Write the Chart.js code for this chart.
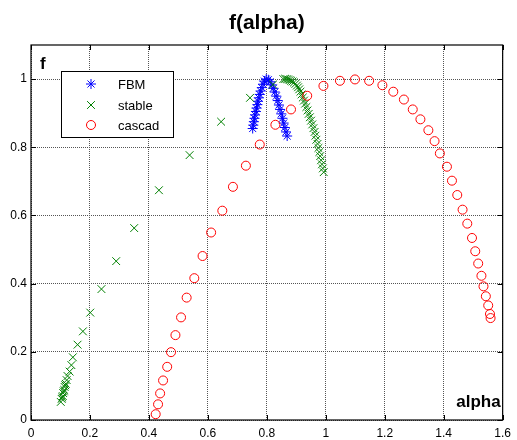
<!DOCTYPE html>
<html>
<head>
<meta charset="utf-8">
<script src="https://cdn.jsdelivr.net/npm/chart.js@4/dist/chart.umd.min.js"></script>
<style>
  body { margin: 0; background: #fff; }
  #wrap { width: 517px; height: 440px; }
</style>
</head>
<body>
<div id="wrap"><canvas id="falphaChart" width="517" height="440"></canvas></div>
<script>
// series values
const fbmAlpha = [0.752, 0.754, 0.756, 0.758, 0.760, 0.763, 0.765, 0.768, 0.770, 0.773, 0.776, 0.779, 0.783, 0.787, 0.792, 0.798,
  0.805, 0.811, 0.817, 0.822, 0.827, 0.832, 0.837, 0.841, 0.845, 0.849, 0.853, 0.857, 0.861, 0.865, 0.869];
const fbmF = [0.855, 0.865, 0.875, 0.885, 0.895, 0.905, 0.915, 0.925, 0.935, 0.945, 0.955, 0.965, 0.975, 0.985, 0.994, 1.000,
  0.998, 0.992, 0.983, 0.973, 0.962, 0.950, 0.937, 0.924, 0.911, 0.898, 0.885, 0.871, 0.858, 0.845, 0.833];

const stableAlpha = [0.101, 0.104, 0.106, 0.108, 0.109, 0.111, 0.113, 0.114, 0.116, 0.118, 0.121, 0.124, 0.131, 0.137, 0.142, 0.158,
  0.176, 0.201, 0.239, 0.289, 0.350, 0.434, 0.538, 0.645, 0.743, 0.821,
  0.856, 0.862, 0.867, 0.872, 0.877, 0.882, 0.887, 0.892, 0.897, 0.902, 0.906, 0.910, 0.914, 0.918, 0.922, 0.926, 0.930,
  0.934, 0.938, 0.942, 0.946, 0.950, 0.954, 0.958, 0.962, 0.965, 0.968, 0.972, 0.975, 0.978, 0.981, 0.984, 0.987, 0.990, 0.993];
const stableF = [0.053, 0.062, 0.066, 0.070, 0.079, 0.084, 0.088, 0.097, 0.102, 0.106, 0.117, 0.129, 0.142, 0.161, 0.184, 0.221,
  0.260, 0.315, 0.384, 0.466, 0.563, 0.674, 0.777, 0.875, 0.945, 0.984,
  1.000, 1.001, 1.000, 0.999, 0.997, 0.995, 0.993, 0.990, 0.986, 0.981, 0.976, 0.970, 0.963, 0.955, 0.946, 0.937, 0.928,
  0.918, 0.908, 0.898, 0.888, 0.878, 0.867, 0.856, 0.845, 0.834, 0.822, 0.810, 0.798, 0.786, 0.774, 0.762, 0.750, 0.738, 0.727];

const cascadAlpha = [0.423, 0.431, 0.438, 0.448, 0.462, 0.475, 0.490, 0.509, 0.528, 0.554, 0.582, 0.611, 0.649, 0.685, 0.729,
  0.776, 0.829, 0.882, 0.937, 0.992, 1.048, 1.099, 1.147, 1.192, 1.229, 1.265, 1.295, 1.321, 1.348, 1.369, 1.387, 1.411,
  1.428, 1.446, 1.464, 1.480, 1.496, 1.507, 1.517, 1.528, 1.535, 1.543, 1.551, 1.557, 1.559];
const cascadF = [0.017, 0.046, 0.078, 0.116, 0.156, 0.199, 0.249, 0.301, 0.359, 0.416, 0.481, 0.550, 0.614, 0.684, 0.746,
  0.808, 0.866, 0.911, 0.951, 0.980, 0.995, 0.999, 0.995, 0.982, 0.963, 0.940, 0.911, 0.882, 0.850, 0.818, 0.782, 0.743,
  0.702, 0.660, 0.617, 0.576, 0.534, 0.495, 0.459, 0.423, 0.392, 0.363, 0.336, 0.311, 0.299];

const seriesNames = ['FBM', 'stable', 'cascad'];
const xTicks = [0, 0.2, 0.4, 0.6, 0.8, 1, 1.2, 1.4, 1.6];
const xTickLabels = ['0', '0.2', '0.4', '0.6', '0.8', '1', '1.2', '1.4', '1.6'];
const yTicks = [0, 0.2, 0.4, 0.6, 0.8, 1];
const yTickLabels = ['0', '0.2', '0.4', '0.6', '0.8', '1'];

function toPoints(xs, ys) {
  return xs.map((x, i) => ({ x: x, y: ys[i] }));
}

const FONT = '"Liberation Sans", Arial, sans-serif';

// axes box, inward ticks, title, corner labels and legend (MATLAB look)
const matlabFrame = {
  id: 'matlabFrame',
  afterDatasetsDraw(chart) {
    const ctx = chart.ctx;
    const a = chart.chartArea;
    const xs = chart.scales.x, ys = chart.scales.y;
    ctx.save();
    ctx.strokeStyle = '#000';
    ctx.lineWidth = 1;
    ctx.beginPath();
    xTicks.forEach(v => {
      const px = Math.round(xs.getPixelForValue(v)) + 0.5;
      ctx.moveTo(px, a.bottom); ctx.lineTo(px, a.bottom - 5);
      ctx.moveTo(px, a.top); ctx.lineTo(px, a.top + 5);
    });
    yTicks.forEach(v => {
      const py = Math.round(ys.getPixelForValue(v)) + 0.5;
      ctx.moveTo(a.left, py); ctx.lineTo(a.left + 5, py);
      ctx.moveTo(a.right, py); ctx.lineTo(a.right - 5, py);
    });
    ctx.stroke();
    ctx.lineWidth = 1.2;
    ctx.strokeRect(a.left, a.top, a.right - a.left, a.bottom - a.top);

    ctx.fillStyle = '#000';
    ctx.textAlign = 'center';
    ctx.textBaseline = 'alphabetic';
    ctx.font = 'bold 21px ' + FONT;
    ctx.fillText('f(alpha)', (a.left + a.right) / 2, 29);
    ctx.textAlign = 'left';
    ctx.font = 'bold 17px ' + FONT;
    ctx.fillText('f', a.left + 9, 69);
    ctx.textAlign = 'right';
    ctx.fillText('alpha', a.right - 2, 407);

    // legend
    const lx = 61, ly = 71, lw = 112, lh = 66;
    ctx.fillStyle = '#fff';
    ctx.fillRect(lx, ly, lw, lh);
    ctx.lineWidth = 1;
    ctx.strokeStyle = '#000';
    ctx.strokeRect(lx + 0.5, ly + 0.5, lw, lh);
    ctx.font = '13px ' + FONT;
    ctx.textAlign = 'left';
    ctx.textBaseline = 'middle';
    const rowY = [84, 105, 125];
    chart.data.datasets.forEach((ds, i) => {
      ctx.strokeStyle = ds.borderColor;
      ctx.fillStyle = 'rgba(0,0,0,0)';
      ctx.lineWidth = 1;
      Chart.helpers.drawPoint(ctx, { pointStyle: ds.pointStyle, radius: ds.pointRadius, borderWidth: 1, rotation: 0 }, 91, rowY[i]);
      ctx.fillStyle = '#000';
      ctx.fillText(seriesNames[i], 118, rowY[i] + 1);
    });
    ctx.restore();
  }
};

const ctx = document.getElementById('falphaChart').getContext('2d');
const falphaChart = new Chart(ctx, {
  type: 'scatter',
  data: {
    datasets: [{
      label: seriesNames[0],
      data: toPoints(fbmAlpha, fbmF),
      pointStyle: 'star',
      pointRadius: 5,
      borderColor: '#0000ff',
      backgroundColor: 'rgba(0,0,0,0)',
      borderWidth: 1,
      order: 2
    }, {
      label: seriesNames[1],
      data: toPoints(stableAlpha, stableF),
      pointStyle: 'crossRot',
      pointRadius: 5.5,
      borderColor: '#008000',
      backgroundColor: 'rgba(0,0,0,0)',
      borderWidth: 1,
      order: 1
    }, {
      label: seriesNames[2],
      data: toPoints(cascadAlpha, cascadF),
      pointStyle: 'circle',
      pointRadius: 4.5,
      borderColor: '#ff0000',
      backgroundColor: 'rgba(0,0,0,0)',
      borderWidth: 1,
      order: 0
    }]
  },
  options: {
    responsive: false,
    animation: false,
    events: [],
    layout: { padding: { top: 45, right: 10, bottom: 0, left: 0 } },
    plugins: {
      legend: { display: false },
      tooltip: { enabled: false },
      title: { display: false }
    },
    scales: {
      x: {
        type: 'linear',
        min: 0,
        max: 1.6,
        afterBuildTicks: scale => { scale.ticks = xTicks.map(v => ({ value: v })); },
        afterFit: scale => { scale.height = 20; },
        grid: { color: '#555', lineWidth: 1, drawTicks: false },
        border: { display: false, dash: [1, 1] },
        ticks: {
          padding: 6,
          color: '#000',
          font: { family: FONT, size: 12 },
          maxRotation: 0,
          callback: (v, i) => xTickLabels[i]
        }
      },
      y: {
        type: 'linear',
        min: 0,
        max: 1.1,
        afterBuildTicks: scale => { scale.ticks = yTicks.map(v => ({ value: v })); },
        afterFit: scale => { scale.width = 31; },
        grid: { color: '#555', lineWidth: 1, drawTicks: false },
        border: { display: false, dash: [1, 1] },
        ticks: {
          padding: 4,
          color: '#000',
          font: { family: FONT, size: 12 },
          callback: (v, i) => yTickLabels[i]
        }
      }
    }
  },
  plugins: [matlabFrame]
});
</script>
</body>
</html>
